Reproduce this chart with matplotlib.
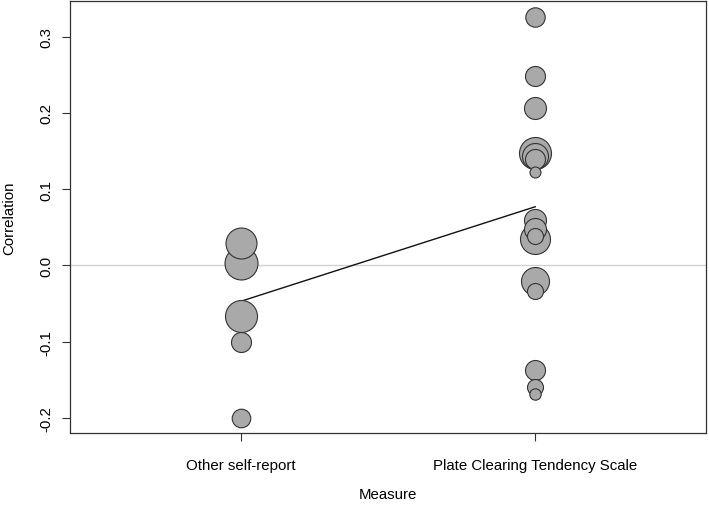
import matplotlib
matplotlib.use("Agg")
import matplotlib.pyplot as plt
import numpy as np

plt.rcParams['font.family'] = ['Liberation Sans', 'DejaVu Sans']

categories = ["Other self-report", "Plate Clearing Tendency Scale"]

other_r = [0.030, 0.003, -0.066, -0.101, -0.200]
other_w = [15.5, 16.5, 16.0, 10.0, 9.3]

pcts_r = [0.326, 0.248, 0.207, 0.147, 0.144, 0.140, 0.122, 0.059, 0.048,
          0.035, 0.0385, -0.021, -0.033, -0.137, -0.160, -0.169]
pcts_w = [9.7, 10.0, 11.0, 16.0, 13.0, 10.0, 5.5, 11.0, 11.0,
          15.0, 8.0, 14.0, 8.0, 10.0, 8.0, 5.7]

fit_r = [-0.047, 0.077]

yticks = [-0.2, -0.1, 0.0, 0.1, 0.2, 0.3]
ytick_labels = ["-0.2", "-0.1", "0.0", "0.1", "0.2", "0.3"]

FS = 10.8
W, H = 709, 506
fig = plt.figure(figsize=(W / 100, H / 100), dpi=100)
ax = fig.add_axes([70 / W, 1 - 434 / H, (706 - 70) / W, (434 - 2) / H])

ax.axhline(0, color="#d3d3d3", lw=1.0, zorder=1)

xs, ys, ws = [], [], []
for i, (rv, wv) in enumerate([(other_r, other_w), (pcts_r, pcts_w)]):
    for r, w in zip(rv, wv):
        xs.append(i + 1)
        ys.append(r)
        ws.append(w)
xs, ys, ws = np.array(xs), np.array(ys), np.array(ws)
order = np.argsort(-ws, kind="stable")
sizes = (2 * ws * 0.72) ** 2

ax.plot([1, 2], fit_r, color="#111111", lw=1.0, zorder=2)
for k in order:
    ax.scatter(xs[k], ys[k], s=sizes[k], facecolor="#a9a9a9",
               edgecolor="#333333", linewidth=0.8, zorder=3)

ax.set_xlim(0.42, 2.58)
ax.set_ylim(-0.2197, 0.3468)
ax.set_xticks([1, 2])
ax.set_xticklabels(categories, fontsize=FS)
ax.set_yticks(yticks)
ax.set_yticklabels(ytick_labels, fontsize=FS, rotation=90, va="center")
ax.tick_params(axis="both", length=6, width=0.8, color="#333333")
ax.tick_params(axis="y", pad=6)
ax.tick_params(axis="x", pad=12)
for s in ax.spines.values():
    s.set_linewidth(0.9)
    s.set_color("#333333")

fig.text(9 / W, 1 - 218 / H, "Correlation", rotation=90, ha="center",
         va="center", fontsize=FS)
fig.text(388 / W, 1 - 495 / H, "Measure", ha="center", va="center",
         fontsize=FS)

fig.savefig("out.png", dpi=100)
